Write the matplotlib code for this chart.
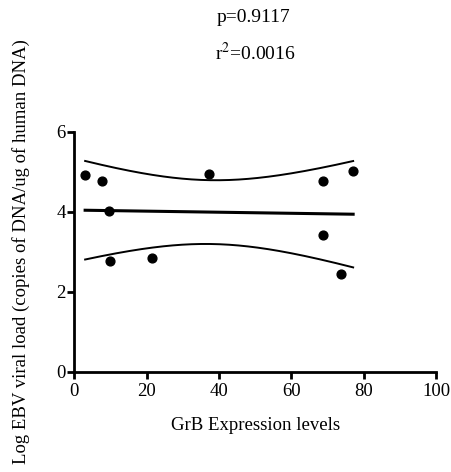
import numpy as np
import matplotlib
matplotlib.use("Agg")
import matplotlib.pyplot as plt

# GrB expression vs log EBV viral load
grb = [3.0, 7.8, 9.5, 10.0, 21.4, 37.3, 68.8, 68.8, 73.7, 77.1]
ebv = [4.93, 4.76, 4.01, 2.77, 2.84, 4.94, 4.77, 3.43, 2.45, 5.03]
x_ticks = [0, 20, 40, 60, 80, 100]
y_ticks = [0, 2, 4, 6]
p_text = "p=0.9117"
r2_text = "r$^2$=0.0016"

plt.rcParams['font.family'] = ['Liberation Serif', 'DejaVu Serif']
plt.rcParams['mathtext.fontset'] = 'stix'

x = np.array(grb)
y = np.array(ebv)
n = len(x)

# least squares fit + 95% confidence band of the line
slope, intercept = np.polyfit(x, y, 1)
resid = y - (slope * x + intercept)
s = np.sqrt(np.sum(resid ** 2) / (n - 2))
sxx = np.sum((x - x.mean()) ** 2)
t_crit = 2.306  # t(0.975, df=8)
xs = np.linspace(x.min(), x.max(), 200)
fit = slope * xs + intercept
half = t_crit * s * np.sqrt(1.0 / n + (xs - x.mean()) ** 2 / sxx)

fig = plt.figure(figsize=(4.51, 4.72), dpi=100)
ax = fig.add_axes([0.1647, 0.2119, 0.802, 0.509])

ax.plot(xs, fit, color='black', lw=2.2)
ax.plot(xs, fit + half, color='black', lw=1.4)
ax.plot(xs, fit - half, color='black', lw=1.4)
ax.scatter(x, y, s=40, color='black', zorder=3, clip_on=False)

ax.set_xlim(0, 100)
ax.set_ylim(0, 6)
ax.set_xticks(x_ticks)
ax.set_yticks(y_ticks)
for side in ['top', 'right']:
    ax.spines[side].set_visible(False)
for side in ['left', 'bottom']:
    ax.spines[side].set_linewidth(2)
ax.tick_params(width=2, length=5, labelsize=13.5, pad=3)
ax.tick_params(axis='y', pad=1)

ax.set_xlabel("GrB Expression levels", fontsize=13.5, labelpad=12)
ax.set_ylabel("Log EBV viral load (copies of DNA/ug of human DNA)", fontsize=13.5)
ax.yaxis.set_label_coords(-0.1225, 0.5)

fig.text(0.562, 0.963, p_text, ha='center', va='center', fontsize=14)
fig.text(0.565, 0.888, r2_text, ha='center', va='center', fontsize=14)

fig.savefig("out.png", dpi=100)
